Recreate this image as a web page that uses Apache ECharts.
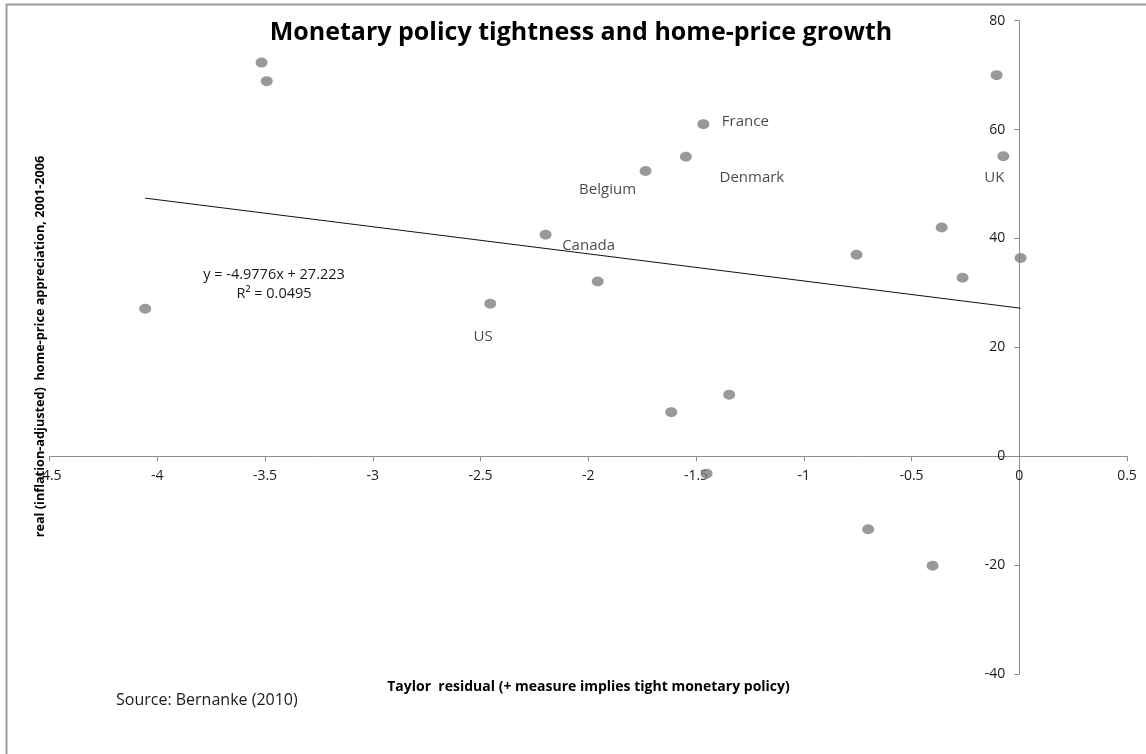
<!DOCTYPE html>
<html>
<head>
<meta charset="utf-8">
<title>Monetary policy tightness and home-price growth</title>
<script src="https://cdn.jsdelivr.net/npm/echarts@6/dist/echarts.min.js"></script>
<style>
  html, body { margin: 0; padding: 0; background: #fff; }
  #chart { width: 1146px; height: 754px; }
</style>
</head>
<body>
<div id="chart"></div>
<script>
// data (Taylor residual vs real home-price growth)
var taylorResidual = [-3.516, -3.492, -4.056, -2.455, -2.198, -1.956, -1.734, -1.547, -1.466,
                      -1.615, -1.346, -1.451, -0.755, -0.701, -0.402, -0.360, -0.263, -0.105, -0.074, 0.006];
var homePriceGrowth = [72.3, 68.9, 27.1, 28.0, 40.7, 32.1, 52.4, 55.0, 61.0,
                       8.1, 11.3, -3.2, 37.0, -13.4, -20.1, 42.0, 32.8, 70.0, 55.1, 36.4];
var countryNames = ['', '', '', 'US', 'Canada', '', 'Belgium', 'Denmark', 'France',
                    '', '', '', '', '', '', '', '', '', 'UK', ''];
// where each name sits relative to its dot
var labelOffsets = {
    'US': [-7, 33],
    'Canada': [43, 11],
    'Belgium': [-38, 19],
    'Denmark': [66, 21],
    'France': [42, -2],
    'UK': [-9, 21]
};
// linear trend line end points (y = -4.9776x + 27.223)
var trendX = [-4.056, 0.006];
var trendY = [47.41, 27.19];

var xTicks = { min: -4.5, max: 0.5, step: 0.5 };
var yTicks = { min: -40, max: 80, step: 20 };

var baseFont = '"Open Sans", Lato, sans-serif';

// plot box in pixels
var gridLeft = 49.5, gridRight = 19, gridTop = 20.7, gridBottom = 80;
var chartW = 1146, chartH = 754;

var points = [];
for (var i = 0; i < taylorResidual.length; i++) {
    var item = { value: [taylorResidual[i], homePriceGrowth[i]] };
    var name = countryNames[i];
    if (name) {
        item.label = {
            show: true,
            formatter: name,
            position: 'inside',
            offset: labelOffsets[name],
            color: '#1a1a1a',
            fontSize: 15,
            fontFamily: baseFont
        };
    }
    points.push(item);
}

var trendData = [];
for (var j = 0; j < trendX.length; j++) {
    trendData.push([trendX[j], trendY[j]]);
}

// axes cross at zero: shift them in from the grid edges so labels follow
var plotW = chartW - gridLeft - gridRight;
var plotH = chartH - gridTop - gridBottom;
var yAxisShift = -plotW * (0 - xTicks.min) / (xTicks.max - xTicks.min);
var xAxisShift = -plotH * (0 - yTicks.min) / (yTicks.max - yTicks.min);

var myChart = echarts.init(document.getElementById('chart'));
var option = {
    backgroundColor: '#fff',
    animation: false,
    grid: {
        left: gridLeft,
        right: gridRight,
        top: gridTop,
        bottom: gridBottom,
        containLabel: false,
        outerBoundsMode: 'none'
    },
    xAxis: {
        type: 'value',
        position: 'bottom',
        offset: xAxisShift,
        min: xTicks.min,
        max: xTicks.max,
        interval: xTicks.step,
        axisLine: { onZero: false, lineStyle: { color: '#8c8c8c', width: 1 } },
        axisTick: { show: true, length: 5, lineStyle: { color: '#8c8c8c' } },
        axisLabel: { margin: 13, color: '#1a1a1a', fontSize: 14, fontFamily: baseFont },
        splitLine: { show: false }
    },
    yAxis: {
        type: 'value',
        position: 'left',
        offset: yAxisShift,
        min: yTicks.min,
        max: yTicks.max,
        interval: yTicks.step,
        axisLine: { show: true, onZero: false, lineStyle: { color: '#8c8c8c', width: 1 } },
        axisTick: { show: true, length: 5, lineStyle: { color: '#8c8c8c' } },
        axisLabel: { margin: 14, color: '#1a1a1a', fontSize: 14, fontFamily: baseFont },
        splitLine: { show: false }
    },
    series: [
        {
            name: 'trend',
            type: 'line',
            data: trendData,
            symbol: 'none',
            silent: true,
            lineStyle: { color: '#111', width: 1 },
            z: 1
        },
        {
            name: 'countries',
            type: 'scatter',
            data: points,
            symbol: 'circle',
            symbolSize: [12, 10],
            itemStyle: { color: '#7f7f7f' },
            z: 3
        }
    ],
    graphic: [
        {
            type: 'rect',
            shape: { x: 6.5, y: 4.5, width: 1300, height: 900 },
            style: { fill: 'none', stroke: '#9a9a9a', lineWidth: 2 },
            silent: true
        },
        {
            type: 'text',
            x: 581, y: 33,
            style: {
                text: 'Monetary policy tightness and home-price growth',
                font: 'bold 25px ' + baseFont,
                fill: '#000',
                textAlign: 'center',
                textVerticalAlign: 'middle'
            }
        },
        {
            type: 'text',
            x: 274, y: 275,
            style: {
                text: 'y = -4.9776x + 27.223',
                font: '14.5px ' + baseFont,
                fill: '#1a1a1a',
                textAlign: 'center',
                textVerticalAlign: 'middle'
            }
        },
        {
            type: 'text',
            x: 274, y: 294,
            style: {
                text: 'R² = 0.0495',
                font: '14.5px ' + baseFont,
                fill: '#1a1a1a',
                textAlign: 'center',
                textVerticalAlign: 'middle'
            }
        },
        {
            type: 'text',
            x: 588.5, y: 687,
            style: {
                text: 'Taylor  residual (+ measure implies tight monetary policy)',
                font: 'bold 14px ' + baseFont,
                fill: '#000',
                textAlign: 'center',
                textVerticalAlign: 'middle'
            }
        },
        {
            type: 'text',
            x: 40, y: 346.5,
            rotation: Math.PI / 2,
            style: {
                text: 'real (inflation-adjusted)  home-price appreciation, 2001-2006',
                font: 'bold 12.7px ' + baseFont,
                fill: '#000',
                textAlign: 'center',
                textVerticalAlign: 'middle'
            }
        },
        {
            type: 'text',
            x: 116, y: 700,
            style: {
                text: 'Source: Bernanke (2010)',
                font: '16px ' + baseFont,
                fill: '#1a1a1a',
                textAlign: 'left',
                textVerticalAlign: 'middle'
            }
        }
    ]
};
myChart.setOption(option);
</script>
</body>
</html>
